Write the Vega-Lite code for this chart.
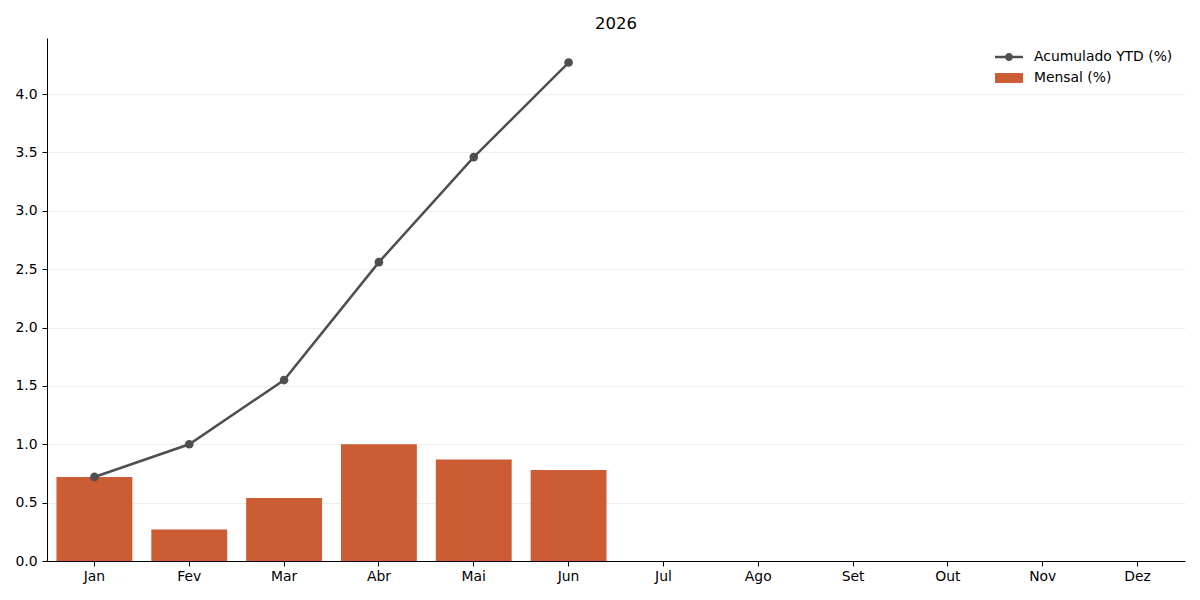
{
  "$schema": "https://vega.github.io/schema/vega-lite/v6.json",
  "description": "Mensal e acumulado YTD 2026",
  "autosize": {"type": "none"},
  "padding": {"left": 47, "top": 38, "right": 15, "bottom": 39},
  "width": 1138,
  "height": 523,
  "background": "white",
  "title": {
    "text": "2026",
    "anchor": "middle",
    "font": "DejaVu Sans",
    "fontSize": 16.5,
    "fontWeight": "normal",
    "color": "black",
    "offset": 6
  },
  "config": {
    "view": {"stroke": null},
    "font": "DejaVu Sans",
    "axis": {
      "labelFont": "DejaVu Sans",
      "labelFontSize": 13.9,
      "labelColor": "black",
      "domainColor": "black",
      "tickColor": "black",
      "tickSize": 5,
      "labelPadding": 3,
      "title": null
    },
    "legend": {
      "orient": "none",
      "legendX": 955,
      "legendY": 12,
      "labelFont": "DejaVu Sans",
      "labelFontSize": 13.9,
      "labelColor": "black",
      "symbolSize": 196,
      "symbolOpacity": 1,
      "symbolStrokeWidth": 0,
      "rowPadding": 7,
      "labelOffset": 18
    }
  },
  "data": {
    "values": [
      {"mes": "Jan", "serie": "Mensal (%)", "valor": 0.72},
      {"mes": "Fev", "serie": "Mensal (%)", "valor": 0.27},
      {"mes": "Mar", "serie": "Mensal (%)", "valor": 0.54},
      {"mes": "Abr", "serie": "Mensal (%)", "valor": 1.00},
      {"mes": "Mai", "serie": "Mensal (%)", "valor": 0.87},
      {"mes": "Jun", "serie": "Mensal (%)", "valor": 0.78},
      {"mes": "Jan", "serie": "Acumulado YTD (%)", "valor": 0.72},
      {"mes": "Fev", "serie": "Acumulado YTD (%)", "valor": 1.00},
      {"mes": "Mar", "serie": "Acumulado YTD (%)", "valor": 1.55},
      {"mes": "Abr", "serie": "Acumulado YTD (%)", "valor": 2.56},
      {"mes": "Mai", "serie": "Acumulado YTD (%)", "valor": 3.46},
      {"mes": "Jun", "serie": "Acumulado YTD (%)", "valor": 4.27}
    ]
  },
  "encoding": {
    "x": {
      "field": "mes",
      "type": "nominal",
      "sort": null,
      "scale": {
        "domain": ["Jan", "Fev", "Mar", "Abr", "Mai", "Jun", "Jul", "Ago", "Set", "Out", "Nov", "Dez"],
        "paddingInner": 0.2,
        "paddingOuter": 0.1
      },
      "axis": {"labelAngle": 0, "grid": false}
    },
    "y": {
      "field": "valor",
      "type": "quantitative",
      "scale": {"domain": [0, 4.48], "nice": false},
      "axis": {
        "values": [0, 0.5, 1, 1.5, 2, 2.5, 3, 3.5, 4],
        "format": ".1f",
        "labelPadding": 5,
        "grid": true,
        "gridColor": "#ebebeb",
        "gridWidth": 0.8
      }
    }
  },
  "layer": [
    {
      "transform": [{"filter": "datum.serie === 'Mensal (%)'"}],
      "mark": {"type": "bar", "opacity": 1},
      "encoding": {
        "color": {
          "field": "serie",
          "type": "nominal",
          "scale": {
            "domain": ["Acumulado YTD (%)", "Mensal (%)"],
            "range": ["#4f4f4f", "#cc5c33"]
          },
          "legend": {"title": null}
        }
      }
    },
    {
      "transform": [{"filter": "datum.serie === 'Acumulado YTD (%)'"}],
      "mark": {
        "type": "line",
        "color": "#4f4f4f",
        "strokeWidth": 2.5,
        "point": {"filled": true, "size": 75, "color": "#4f4f4f"}
      }
    },
    {
      "transform": [{"filter": "datum.serie === 'Acumulado YTD (%)'"}],
      "mark": {"type": "point", "filled": true, "opacity": 0},
      "encoding": {
        "color": {"field": "serie", "type": "nominal", "legend": {"title": null}},
        "shape": {
          "field": "serie",
          "type": "nominal",
          "scale": {
            "domain": ["Acumulado YTD (%)", "Mensal (%)"],
            "range": [
              "M-2,-0.18H2V0.18H-2ZM0.57,0A0.57,0.57,0,1,1,-0.57,0A0.57,0.57,0,1,1,0.57,0Z",
              "M-2,-0.71H2V0.71H-2Z"
            ]
          },
          "legend": {"title": null}
        }
      }
    }
  ]
}
